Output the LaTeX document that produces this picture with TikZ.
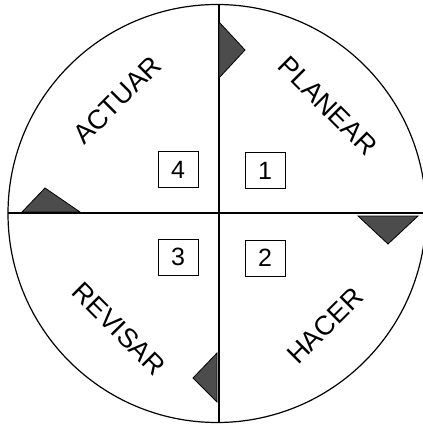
\documentclass[tikz,border=0pt]{standalone}
\usepackage{fontspec}
\setmainfont{Liberation Sans}
\usetikzlibrary{positioning}
\tikzset{
  fase/.style={font=\fontsize{27}{27}\selectfont},
  caja/.style={draw,line width=1pt,minimum width=40pt,minimum height=36pt,inner sep=0pt,font=\fontsize{25}{25}\selectfont},
  flecha/.style={draw=black,line width=0.8pt,fill=black!70}
}
\begin{document}
\begin{tikzpicture}[x=1pt,y=-1pt,line width=1.2pt]
  \useasboundingbox (0,0) rectangle (422,427);
  \coordinate (C) at (217,213.5);
  \draw (C) circle (209);
  \coordinate (N) at (219,5);
  \coordinate (S) at (219,422);
  \coordinate (W) at (8,213);
  \coordinate (E) at (428,213);
  \draw (N) -- (S);
  \draw (W) -- (E);
  % flechas
  \draw[flecha] (219,22) -- (245,50) -- (219,78) -- cycle;
  \draw[flecha] (358,216) -- (418,216) -- (388,244) -- cycle;
  \draw[flecha] (22,212) -- (45,188) -- (80,212) -- cycle;
  \draw[flecha] (217,353) -- (193,378) -- (217,402) -- cycle;
  % etapas
  \node[fase,rotate=45] (actuar) at (117,100) {ACTUAR};
  \node[fase,rotate=-45] (planear) at (328,106) {PLANEAR};
  \node[fase,rotate=-45] (revisar) at (119,329) {REVISAR};
  \node[fase,rotate=45] (hacer) at (325,326) {HACER};
  % numeros
  \node[caja] (c4) at (178,170) {4};
  \node[caja] (c1) at (265,171) {1};
  \node[caja] (c3) at (178,257) {3};
  \node[caja] (c2) at (265,258) {2};
\end{tikzpicture}
\end{document}
